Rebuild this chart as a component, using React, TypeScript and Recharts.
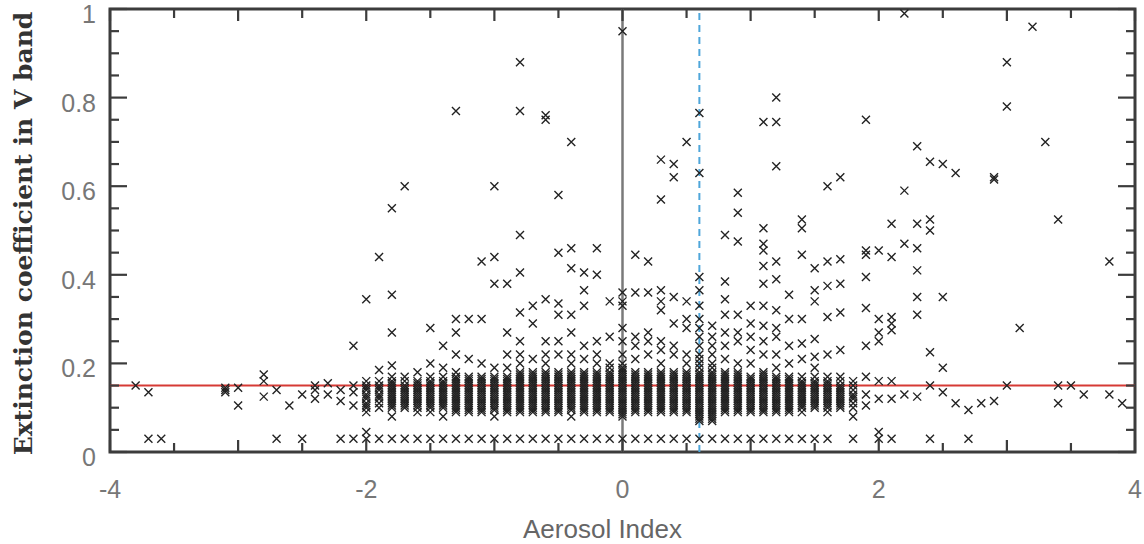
import React from "react";
import { ScatterChart, Scatter, XAxis, YAxis, ReferenceLine, ReferenceArea, Label } from "recharts";

// tick positions
const xTicks = [-4, -3.5, -3, -2.5, -2, -1.5, -1, -0.5, 0, 0.5, 1, 1.5, 2, 2.5, 3, 3.5, 4];
const xLabelled = [-4, -2, 0, 2, 4];
const yTicks = [
  0, 0.05, 0.1, 0.15, 0.2, 0.25, 0.3, 0.35, 0.4, 0.45, 0.5, 0.55, 0.6, 0.65, 0.7, 0.75, 0.8,
  0.85, 0.9, 0.95, 1,
];
const yLabelled = [0, 0.2, 0.4, 0.6, 0.8, 1];

const zeroIndex = 0;
const meanIndex = 0.6;
const meanExtinction = 0.15;

type Column = [number, number[]];

// aerosol index column -> extinction values
const leftTail: Column[] = [
  [-3.8, [0.15]],
  [-3.7, [0.03, 0.135]],
  [-3.6, [0.03]],
  [-3.1, [0.135, 0.14, 0.145]],
  [-3.0, [0.105, 0.145]],
  [-2.8, [0.125, 0.16, 0.175]],
  [-2.7, [0.03, 0.14]],
  [-2.6, [0.105]],
  [-2.5, [0.03, 0.13]],
  [-2.4, [0.12, 0.14, 0.15]],
  [-2.3, [0.13, 0.155]],
  [-2.2, [0.03, 0.115, 0.14]],
  [-2.1, [0.03, 0.105, 0.135, 0.15, 0.24]],
];

const coreLeft: Column[] = [
  [-2.0, [0.03, 0.045, 0.09, 0.1, 0.105, 0.11, 0.12, 0.125, 0.13, 0.14, 0.145, 0.15, 0.16, 0.345]],
  [-1.9, [0.03, 0.1, 0.11, 0.12, 0.125, 0.13, 0.14, 0.145, 0.15, 0.16, 0.185, 0.44]],
  [-1.8, [0.03, 0.08, 0.1, 0.105, 0.11, 0.115, 0.12, 0.125, 0.13, 0.135, 0.14, 0.145, 0.15, 0.155, 0.16, 0.17, 0.195, 0.27, 0.355, 0.55]],
  [-1.7, [0.03, 0.1, 0.105, 0.11, 0.115, 0.12, 0.125, 0.13, 0.135, 0.14, 0.145, 0.15, 0.16, 0.17, 0.6]],
  [-1.6, [0.03, 0.09, 0.1, 0.105, 0.11, 0.115, 0.12, 0.125, 0.13, 0.135, 0.14, 0.145, 0.15, 0.155, 0.16, 0.18]],
  [-1.5, [0.03, 0.09, 0.1, 0.105, 0.11, 0.115, 0.12, 0.125, 0.13, 0.135, 0.14, 0.145, 0.15, 0.155, 0.16, 0.17, 0.2, 0.28]],
  [-1.4, [0.03, 0.08, 0.1, 0.105, 0.11, 0.115, 0.12, 0.125, 0.13, 0.135, 0.14, 0.145, 0.15, 0.155, 0.16, 0.17, 0.19, 0.24]],
  [-1.3, [0.03, 0.09, 0.095, 0.1, 0.105, 0.11, 0.115, 0.12, 0.125, 0.13, 0.135, 0.14, 0.145, 0.15, 0.155, 0.16, 0.165, 0.17, 0.18, 0.22, 0.27, 0.3, 0.77]],
  [-1.2, [0.03, 0.09, 0.095, 0.1, 0.105, 0.11, 0.115, 0.12, 0.125, 0.13, 0.135, 0.14, 0.145, 0.15, 0.155, 0.16, 0.165, 0.17, 0.21, 0.3]],
  [-1.1, [0.03, 0.09, 0.095, 0.1, 0.105, 0.11, 0.115, 0.12, 0.125, 0.13, 0.135, 0.14, 0.145, 0.15, 0.155, 0.16, 0.165, 0.17, 0.2, 0.3, 0.43]],
  [-1.0, [0.03, 0.08, 0.095, 0.1, 0.105, 0.11, 0.115, 0.12, 0.125, 0.13, 0.135, 0.14, 0.145, 0.15, 0.155, 0.16, 0.165, 0.17, 0.19, 0.38, 0.44, 0.6]],
  [-0.9, [0.03, 0.09, 0.095, 0.1, 0.105, 0.11, 0.115, 0.12, 0.125, 0.13, 0.135, 0.14, 0.145, 0.15, 0.155, 0.16, 0.165, 0.17, 0.19, 0.22, 0.27, 0.38]],
  [-0.8, [0.03, 0.09, 0.095, 0.1, 0.105, 0.11, 0.115, 0.12, 0.125, 0.13, 0.135, 0.14, 0.145, 0.15, 0.155, 0.16, 0.165, 0.17, 0.175, 0.18, 0.2, 0.22, 0.25, 0.315, 0.405, 0.49, 0.77, 0.88]],
  [-0.7, [0.03, 0.09, 0.095, 0.1, 0.105, 0.11, 0.115, 0.12, 0.125, 0.13, 0.135, 0.14, 0.145, 0.15, 0.155, 0.16, 0.165, 0.17, 0.175, 0.18, 0.21, 0.29, 0.33]],
  [-0.6, [0.03, 0.09, 0.095, 0.1, 0.105, 0.11, 0.115, 0.12, 0.125, 0.13, 0.135, 0.14, 0.145, 0.15, 0.155, 0.16, 0.165, 0.17, 0.175, 0.18, 0.2, 0.22, 0.25, 0.345, 0.75, 0.76]],
  [-0.5, [0.03, 0.09, 0.095, 0.1, 0.105, 0.11, 0.115, 0.12, 0.125, 0.13, 0.135, 0.14, 0.145, 0.15, 0.155, 0.16, 0.165, 0.17, 0.175, 0.18, 0.22, 0.25, 0.31, 0.335, 0.45, 0.58]],
  [-0.4, [0.03, 0.08, 0.095, 0.1, 0.105, 0.11, 0.115, 0.12, 0.125, 0.13, 0.135, 0.14, 0.145, 0.15, 0.155, 0.16, 0.165, 0.17, 0.175, 0.18, 0.2, 0.22, 0.27, 0.31, 0.415, 0.46, 0.7]],
  [-0.3, [0.03, 0.09, 0.095, 0.1, 0.105, 0.11, 0.115, 0.12, 0.125, 0.13, 0.135, 0.14, 0.145, 0.15, 0.155, 0.16, 0.165, 0.17, 0.175, 0.18, 0.21, 0.24, 0.33, 0.365, 0.405]],
  [-0.2, [0.03, 0.09, 0.095, 0.1, 0.105, 0.11, 0.115, 0.12, 0.125, 0.13, 0.135, 0.14, 0.145, 0.15, 0.155, 0.16, 0.165, 0.17, 0.175, 0.18, 0.2, 0.22, 0.25, 0.4, 0.46]],
  [-0.1, [0.03, 0.09, 0.095, 0.1, 0.105, 0.11, 0.115, 0.12, 0.125, 0.13, 0.135, 0.14, 0.145, 0.15, 0.155, 0.16, 0.165, 0.17, 0.175, 0.18, 0.19, 0.2, 0.26, 0.34]],
];

const coreRight: Column[] = [
  [0.0, [0.03, 0.08, 0.085, 0.09, 0.095, 0.1, 0.105, 0.11, 0.115, 0.12, 0.125, 0.13, 0.135, 0.14, 0.145, 0.15, 0.155, 0.16, 0.165, 0.17, 0.175, 0.18, 0.185, 0.19, 0.2, 0.22, 0.25, 0.28, 0.33, 0.34, 0.36, 0.95]],
  [0.1, [0.03, 0.09, 0.095, 0.1, 0.105, 0.11, 0.115, 0.12, 0.125, 0.13, 0.135, 0.14, 0.145, 0.15, 0.155, 0.16, 0.165, 0.17, 0.175, 0.18, 0.21, 0.24, 0.26, 0.36, 0.445]],
  [0.2, [0.03, 0.09, 0.095, 0.1, 0.105, 0.11, 0.115, 0.12, 0.125, 0.13, 0.135, 0.14, 0.145, 0.15, 0.155, 0.16, 0.165, 0.17, 0.175, 0.18, 0.22, 0.25, 0.27, 0.36, 0.43]],
  [0.3, [0.03, 0.09, 0.095, 0.1, 0.105, 0.11, 0.115, 0.12, 0.125, 0.13, 0.135, 0.14, 0.145, 0.15, 0.155, 0.16, 0.165, 0.17, 0.175, 0.18, 0.2, 0.23, 0.25, 0.32, 0.34, 0.365, 0.57, 0.66]],
  [0.4, [0.03, 0.09, 0.095, 0.1, 0.105, 0.11, 0.115, 0.12, 0.125, 0.13, 0.135, 0.14, 0.145, 0.15, 0.155, 0.16, 0.165, 0.17, 0.175, 0.18, 0.22, 0.24, 0.29, 0.35, 0.62, 0.65]],
  [0.5, [0.03, 0.09, 0.095, 0.1, 0.105, 0.11, 0.115, 0.12, 0.125, 0.13, 0.135, 0.14, 0.145, 0.15, 0.155, 0.16, 0.165, 0.17, 0.175, 0.18, 0.2, 0.22, 0.28, 0.3, 0.34, 0.7]],
  [0.6, [0.03, 0.07, 0.075, 0.08, 0.085, 0.09, 0.095, 0.1, 0.105, 0.11, 0.115, 0.12, 0.125, 0.13, 0.135, 0.14, 0.145, 0.15, 0.155, 0.16, 0.165, 0.17, 0.175, 0.18, 0.19, 0.2, 0.21, 0.22, 0.24, 0.26, 0.28, 0.3, 0.33, 0.365, 0.395, 0.63, 0.765]],
  [0.7, [0.03, 0.07, 0.075, 0.08, 0.085, 0.09, 0.095, 0.1, 0.105, 0.11, 0.115, 0.12, 0.125, 0.13, 0.135, 0.14, 0.145, 0.15, 0.155, 0.16, 0.165, 0.17, 0.175, 0.18, 0.19, 0.2, 0.22, 0.24, 0.26, 0.285]],
  [0.8, [0.03, 0.09, 0.095, 0.1, 0.105, 0.11, 0.115, 0.12, 0.125, 0.13, 0.135, 0.14, 0.145, 0.15, 0.155, 0.16, 0.165, 0.17, 0.175, 0.18, 0.21, 0.24, 0.27, 0.31, 0.345, 0.385, 0.49]],
  [0.9, [0.03, 0.09, 0.095, 0.1, 0.105, 0.11, 0.115, 0.12, 0.125, 0.13, 0.135, 0.14, 0.145, 0.15, 0.155, 0.16, 0.165, 0.17, 0.175, 0.18, 0.2, 0.25, 0.27, 0.31, 0.475, 0.54, 0.585]],
  [1.0, [0.03, 0.09, 0.095, 0.1, 0.105, 0.11, 0.115, 0.12, 0.125, 0.13, 0.135, 0.14, 0.145, 0.15, 0.155, 0.16, 0.165, 0.17, 0.2, 0.23, 0.26, 0.29, 0.33]],
  [1.1, [0.03, 0.09, 0.095, 0.1, 0.105, 0.11, 0.115, 0.12, 0.125, 0.13, 0.135, 0.14, 0.145, 0.15, 0.155, 0.16, 0.165, 0.17, 0.175, 0.18, 0.22, 0.25, 0.285, 0.33, 0.38, 0.42, 0.455, 0.47, 0.505, 0.745]],
  [1.2, [0.03, 0.09, 0.095, 0.1, 0.105, 0.11, 0.115, 0.12, 0.125, 0.13, 0.135, 0.14, 0.145, 0.15, 0.155, 0.16, 0.165, 0.17, 0.19, 0.22, 0.26, 0.28, 0.32, 0.39, 0.43, 0.645, 0.745, 0.8]],
  [1.3, [0.03, 0.09, 0.095, 0.1, 0.105, 0.11, 0.115, 0.12, 0.125, 0.13, 0.135, 0.14, 0.145, 0.15, 0.155, 0.16, 0.165, 0.17, 0.2, 0.24, 0.3, 0.355]],
  [1.4, [0.03, 0.09, 0.1, 0.105, 0.11, 0.115, 0.12, 0.125, 0.13, 0.135, 0.14, 0.145, 0.15, 0.155, 0.16, 0.17, 0.21, 0.245, 0.3, 0.445, 0.505, 0.525]],
  [1.5, [0.03, 0.1, 0.105, 0.11, 0.115, 0.12, 0.125, 0.13, 0.135, 0.14, 0.145, 0.15, 0.155, 0.16, 0.17, 0.19, 0.215, 0.255, 0.34, 0.365, 0.415]],
  [1.6, [0.03, 0.09, 0.1, 0.105, 0.11, 0.115, 0.12, 0.125, 0.13, 0.135, 0.14, 0.145, 0.15, 0.155, 0.16, 0.17, 0.22, 0.305, 0.375, 0.43, 0.6]],
  [1.7, [0.1, 0.105, 0.11, 0.115, 0.12, 0.125, 0.13, 0.135, 0.14, 0.145, 0.15, 0.16, 0.17, 0.23, 0.315, 0.38, 0.435, 0.62]],
  [1.8, [0.03, 0.08, 0.1, 0.11, 0.12, 0.125, 0.13, 0.14, 0.15, 0.16]],
];

const rightTail: Column[] = [
  [1.9, [0.105, 0.13, 0.17, 0.24, 0.325, 0.395, 0.445, 0.455, 0.75]],
  [2.0, [0.03, 0.045, 0.12, 0.16, 0.25, 0.27, 0.3, 0.455]],
  [2.1, [0.03, 0.12, 0.16, 0.275, 0.29, 0.305, 0.44, 0.515]],
  [2.2, [0.13, 0.47, 0.59, 0.99]],
  [2.3, [0.125, 0.31, 0.35, 0.41, 0.46, 0.515, 0.69]],
  [2.4, [0.03, 0.15, 0.225, 0.5, 0.525, 0.655]],
  [2.5, [0.135, 0.19, 0.35, 0.65]],
  [2.6, [0.11, 0.63]],
  [2.7, [0.03, 0.095]],
  [2.8, [0.11]],
  [2.9, [0.115, 0.615, 0.62]],
  [3.0, [0.15, 0.78, 0.88]],
  [3.1, [0.28]],
  [3.2, [0.96]],
  [3.3, [0.7]],
  [3.4, [0.11, 0.15, 0.525]],
  [3.5, [0.15]],
  [3.6, [0.13]],
  [3.8, [0.13, 0.43]],
  [3.9, [0.11]],
];

const points = [...leftTail, ...coreLeft, ...coreRight, ...rightTail].flatMap(([x, ys]) =>
  ys.map((y) => ({ x, y }))
);

// tick-mark anchors on the frame, placed through the chart scales
const bottomMarks = xTicks.map((t) => ({ x: t, y: 0, side: "b" }));
const topMarks = xTicks.map((t) => ({ x: t, y: 1, side: "t" }));
const leftMarks = yTicks.map((t) => ({ x: -4, y: t, side: "l" }));
const rightMarks = yTicks.map((t) => ({ x: 4, y: t, side: "r" }));
const frameMarks = [...bottomMarks, ...topMarks, ...leftMarks, ...rightMarks];

const tickFont = "'Liberation Sans', Arial, sans-serif";
const frame = "#3c3c3c";

const isInt = (v: number) => Math.abs(v - Math.round(v)) < 1e-6;
const isFifth = (v: number) => Math.abs(v * 5 - Math.round(v * 5)) < 1e-6;

const Cross = (props: any) => {
  const { cx, cy } = props;
  if (cx == null || cy == null) return null;
  const r = 4;
  return (
    <path
      d={`M${cx - r},${cy - r}L${cx + r},${cy + r}M${cx + r},${cy - r}L${cx - r},${cy + r}`}
      stroke="#222"
      strokeWidth={1.4}
      fill="none"
    />
  );
};

const TickMark = (props: any) => {
  const { cx, cy, payload } = props;
  if (cx == null || cy == null || !payload) return null;
  const side = payload.side;
  let d = "";
  if (side === "b" || side === "t") {
    const len = isInt(payload.x) ? 12 : 9;
    d = `M${cx},${cy}L${cx},${side === "b" ? cy - len : cy + len}`;
  } else {
    const len = isFifth(payload.y) ? 17 : 9;
    d = `M${cx},${cy}L${side === "l" ? cx + len : cx - len},${cy}`;
  }
  return <path d={d} stroke={frame} strokeWidth={2.2} fill="none" />;
};

const XLabelTick = ({ x, y, payload }: any) =>
  xLabelled.includes(payload.value) ? (
    <text x={x} y={y + 46} textAnchor="middle" fill="#777" fontSize={25} fontFamily={tickFont}>
      {payload.value}
    </text>
  ) : null;

const YLabelTick = ({ x, y, payload }: any) =>
  yLabelled.includes(payload.value) ? (
    <text x={x - 14} y={y + 14} textAnchor="end" fill="#777" fontSize={25} fontFamily={tickFont}>
      {payload.value}
    </text>
  ) : null;

const XTitle = ({ viewBox }: any) => (
  <text
    x={viewBox.x + viewBox.width / 2 - 20}
    y={viewBox.y + 86}
    textAnchor="middle"
    fill="#666"
    fontSize={26}
    fontFamily={tickFont}
  >
    Aerosol Index
  </text>
);

const YTitle = ({ viewBox }: any) => {
  const cx = viewBox.x + 32;
  const cy = viewBox.y + viewBox.height / 2 + 3;
  return (
    <text
      x={cx}
      y={cy}
      transform={`rotate(-90 ${cx} ${cy})`}
      textAnchor="middle"
      fill="#333"
      fontSize={25}
      fontWeight="bold"
      fontFamily="'DejaVu Serif', serif"
    >
      Extinction coefficient in V band
    </text>
  );
};

export default function App() {
  return (
    <div style={{ position: "absolute", left: 0, top: 0, background: "#fff" }}>
      <ScatterChart width={1144} height={544} margin={{ top: 9, right: 9, left: 0, bottom: 0 }}>
        <XAxis
          dataKey="x"
          type="number"
          domain={[-4, 4]}
          ticks={xTicks}
          interval={0}
          height={92}
          tickSize={0}
          tickMargin={0}
          tickLine={false}
          axisLine={false}
          tick={<XLabelTick />}
        >
          <Label content={<XTitle />} />
        </XAxis>
        <YAxis
          dataKey="y"
          type="number"
          domain={[0, 1]}
          ticks={yTicks}
          interval={0}
          width={110}
          tickSize={0}
          tickMargin={0}
          tickLine={false}
          axisLine={false}
          tick={<YLabelTick />}
        >
          <Label content={<YTitle />} />
        </YAxis>
        <ReferenceArea
          x1={-4}
          x2={4}
          y1={0}
          y2={1}
          ifOverflow="visible"
          fill="none"
          fillOpacity={0}
          stroke={frame}
          strokeWidth={3}
        />
        <Scatter data={points} shape={<Cross />} isAnimationActive={false} />
        <Scatter data={frameMarks} shape={<TickMark />} isAnimationActive={false} />
        <ReferenceLine x={zeroIndex} stroke="#7a7a7a" strokeWidth={2.5} />
        <ReferenceLine x={meanIndex} stroke="#4fa6da" strokeWidth={2} strokeDasharray="7 5" />
        <ReferenceLine y={meanExtinction} stroke="#d63a35" strokeWidth={2} />
      </ScatterChart>
    </div>
  );
}
